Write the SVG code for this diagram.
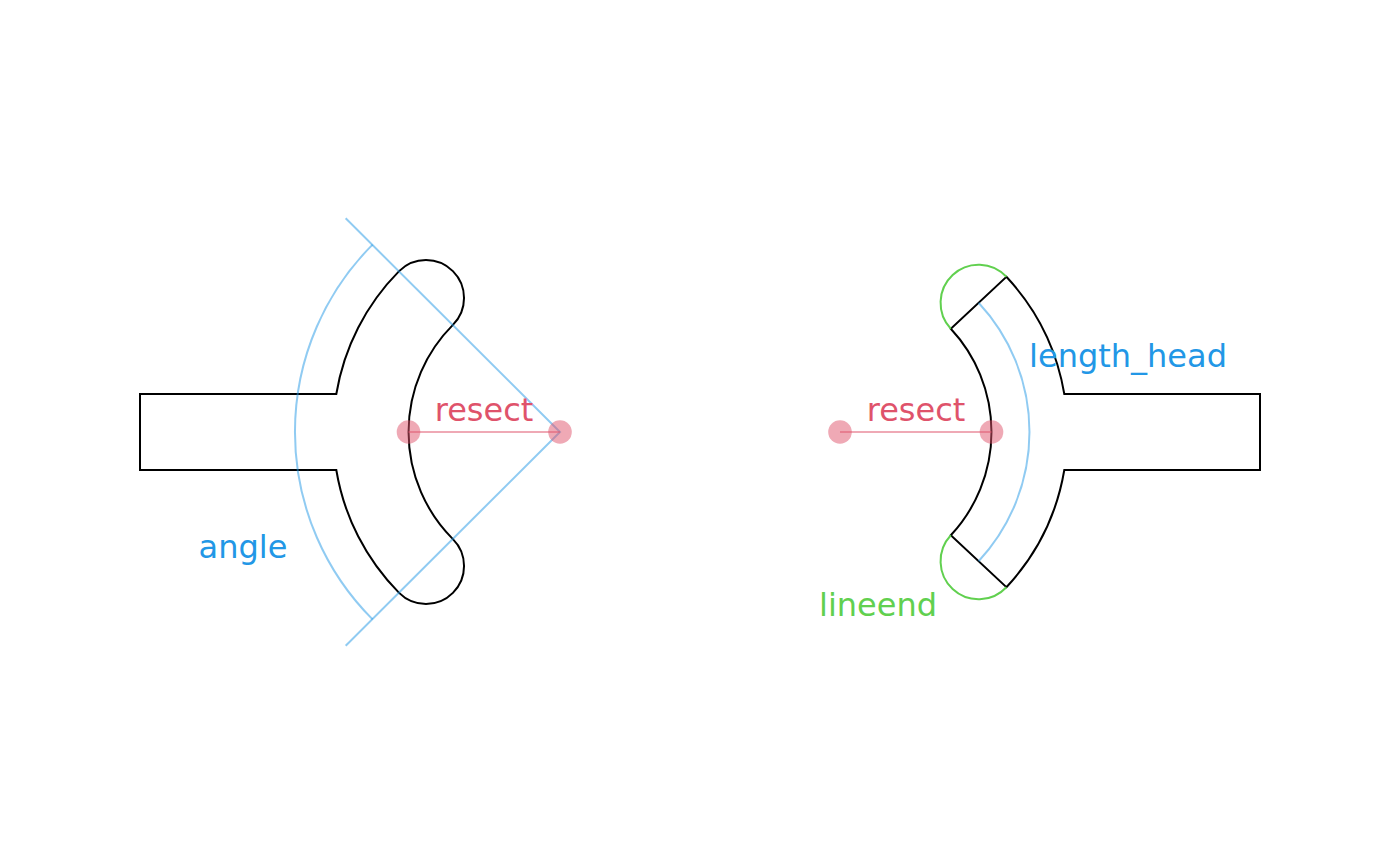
<svg xmlns="http://www.w3.org/2000/svg" width="1400" height="865" viewBox="0 0 1400 865">
<style>
.shape{fill:none;stroke:#000;stroke-width:2;stroke-linejoin:miter}
.guide{fill:none;stroke:#2297E6;stroke-opacity:0.5;stroke-width:2}
.cap{fill:none;stroke:#61D04F;stroke-width:2}
.dot{fill:#DF536B;fill-opacity:0.5}
.rline{stroke:#DF536B;stroke-opacity:0.5;stroke-width:2}
.lbl{font-family:"DejaVu Sans",sans-serif;font-size:32px;text-anchor:middle}
.blue{fill:#2297E6}
.red{fill:#DF536B}
.green{fill:#61D04F}
</style>
<rect width="1400" height="865" fill="#fff"/>
<g id="arrow-left">
<path class="shape" d="M140,394 L336.3,394 A227.5,227.5 0 0 1 399.1,271.1 A38,38 0 0 1 452.9,324.9 A151.5,151.5 0 0 0 452.9,539.1 A38,38 0 0 1 399.1,592.9 A227.5,227.5 0 0 1 336.3,470 L140,470 Z"/>
</g>
<g id="arrow-right">
<path class="shape" d="M1260,394 L1064.3,394 A227.5,227.5 0 0 0 1006.4,276.8 L950.8,328.7 A151.5,151.5 0 0 1 950.8,535.3 L1006.4,587.2 A227.5,227.5 0 0 0 1064.3,470 L1260,470 Z"/>
</g>
<g id="connectors">
<path class="guide" d="M345.7,218.3 L560,432 L345.7,645.7"/>
<path class="guide" d="M372.6,244.6 A265,265 0 0 0 372.6,619.4"/>
<path class="guide" d="M978.6,302.8 A189.5,189.5 0 0 1 978.6,561.2"/>
<path class="cap" d="M1006.4,276.8 A38,38 0 0 0 950.8,328.7"/>
<path class="cap" d="M1006.4,587.2 A38,38 0 0 1 950.8,535.3"/>
<circle class="dot" cx="408.5" cy="432" r="11.8"/>
<circle class="dot" cx="560" cy="432" r="11.8"/>
<line class="rline" x1="408.5" y1="432" x2="560" y2="432"/>
<circle class="dot" cx="840" cy="432" r="11.8"/>
<circle class="dot" cx="991.5" cy="432" r="11.8"/>
<line class="rline" x1="840" y1="432" x2="991.5" y2="432"/>
</g>
<g id="labels">
<text class="lbl red" x="484" y="421">resect</text>
<text class="lbl blue" x="243" y="558">angle</text>
<text class="lbl red" x="916" y="421">resect</text>
<text class="lbl blue" x="1128" y="367">length_head</text>
<text class="lbl green" x="878" y="616">lineend</text>
</g>
</svg>
